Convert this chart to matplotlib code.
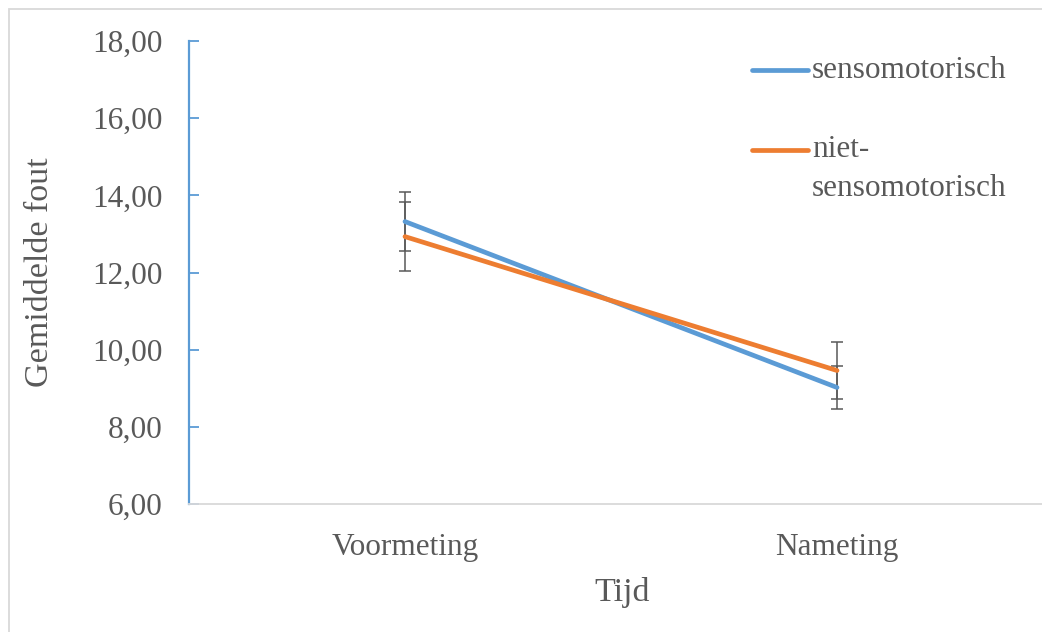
import matplotlib.pyplot as plt
from matplotlib.patches import Rectangle
from matplotlib.lines import Line2D

# ---- data ----
tijd = ["Voormeting", "Nameting"]
senso = [13.32, 9.02]
senso_err = [0.77, 0.56]
niet_senso = [12.93, 9.46]
niet_senso_err = [0.89, 0.73]

yticks = [6, 8, 10, 12, 14, 16, 18]

blue = "#5B9BD5"
orange = "#ED7D31"
grey = "#595959"

plt.rcParams["font.family"] = ["Liberation Serif", "DejaVu Serif"]

fig = plt.figure(figsize=(10.42, 6.32), dpi=100)
ax = fig.add_axes([189 / 1042, 1 - 504 / 632, 864 / 1042, 463 / 632])

x = list(range(len(tijd)))

# error bars under the lines
ax.errorbar(x, senso, yerr=senso_err, fmt="none", ecolor=grey,
            elinewidth=1.1, capsize=4.5, capthick=1.1, zorder=2)
ax.errorbar(x, niet_senso, yerr=niet_senso_err, fmt="none", ecolor=grey,
            elinewidth=1.1, capsize=4.5, capthick=1.1, zorder=2)

ax.plot(x, senso, color=blue, lw=3.4, solid_capstyle="round", zorder=3)
ax.plot(x, niet_senso, color=orange, lw=3.4, solid_capstyle="round", zorder=3)

ax.set_xlim(-0.5, 1.5)
ax.set_ylim(6, 18)
ax.set_yticks(yticks)
ax.set_yticklabels([f"{v:.2f}".replace(".", ",") for v in yticks])
ax.set_xticks(x)
ax.set_xticklabels(tijd)

ax.tick_params(axis="y", direction="in", length=7, width=1.3, color=blue,
               labelsize=22.5, labelcolor=grey, pad=19)
ax.tick_params(axis="x", length=0, labelsize=22.5, labelcolor=grey, pad=21)

for s in ["top", "right"]:
    ax.spines[s].set_visible(False)
ax.spines["left"].set_color(blue)
ax.spines["left"].set_linewidth(1.6)
ax.spines["bottom"].set_color("#D9D9D9")
ax.spines["bottom"].set_linewidth(1.3)

# axis titles
fig.text(40 / 1042, 1 - 272 / 632, "Gemiddelde fout", rotation=90,
         ha="center", va="center", fontsize=24.5, color=grey)
fig.text(622 / 1042, 1 - 592 / 632, "Tijd", ha="center", va="center",
         fontsize=24.5, color=grey)

# legend (Excel style: handle aligned with first text line)
fig.add_artist(Line2D([752 / 1042, 808 / 1042], [1 - 70 / 632] * 2,
                      color=blue, lw=3.4, solid_capstyle="round"))
fig.text(812 / 1042, 1 - 70 / 632, "sensomotorisch", ha="left", va="center",
         fontsize=22.5, color=grey)
fig.add_artist(Line2D([752 / 1042, 808 / 1042], [1 - 150 / 632] * 2,
                      color=orange, lw=3.4, solid_capstyle="round"))
fig.text(812 / 1042, 1 - 150 / 632, "niet-", ha="left", va="center",
         fontsize=22.5, color=grey)
fig.text(812 / 1042, 1 - 188 / 632, "sensomotorisch", ha="left", va="center",
         fontsize=22.5, color=grey)

# chart border
fig.add_artist(Rectangle((9 / 1042, -0.05), 1.1, 1 - 9 / 632 + 0.05,
                         transform=fig.transFigure, fill=False,
                         edgecolor="#D9D9D9", lw=1.3))

fig.savefig("out.png", dpi=100)
